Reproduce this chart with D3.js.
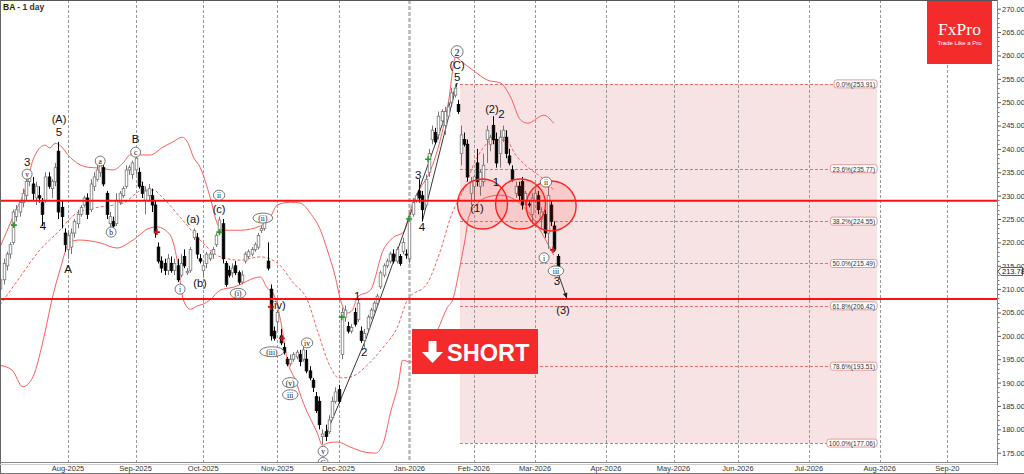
<!DOCTYPE html>
<html><head><meta charset="utf-8">
<script src="https://cdn.jsdelivr.net/npm/d3@7"></script>
<style>body{margin:0;background:#fff;overflow:hidden}svg{display:block;font-family:"Liberation Sans",Arial,sans-serif}</style>
</head><body><svg id="c" width="1024" height="474"></svg>
<script>
// ---------- DATA ----------
const title = "BA";
const subtitle = " - 1 day";
const opens = [209,210,212,215,217.5,220,225.5,226.5,228.5,230,233,232.5,229.5,230,228.5,229,234,231.5,233,239.5,227.5,222,218.5,
219,222,224,226,228,229.5,227,232,233.5,235,236,230.5,224,224.5,224,228.5,230,232,235.5,234.5,235.5,
235,232,229,230,230,228,219,216,215.5,214,215.5,214,215,213,217,213.5,214,221,221,216.5,214,
215.5,216.5,217.5,219.5,222,224,215.5,214,213.5,215,213.5,211.5,216,217,217.5,218.5,219,222.5,223,216,210,201,203,
200,197.5,195,194,195,195.5,196,195,195,192.5,190.5,187,186,178.5,179.5,179.5,182.5,186,188.5,
196,204,202,201,205,203.5,201,199,201.5,204,205.5,207,210.5,213,215,216,217.5,216,217,218,217.5,
216.5,226,229,231,230,228,235,242,243.5,243,246,245,247,250,251.5,249.5,239,242,241,230.5,232,237,
232,233,242,241,245,242,239,242.5,242.5,238.5,235.5,230.5,232,233,229,228.2,226,229,230,225,226,222,228,223.5,217];
const highs = [212,212.5,216.5,218,220,227,228,229,231.5,234,235.5,234,233,232,229.5,235,235,233.5,237,241.5,229,223,222.5,
223,225,227,228,230,230.5,233.5,235,236.5,237,236.5,231,226.5,225.5,230.5,231,232,236.5,236.5,237.5,238.5,
236,233,232,232.5,231.5,229,220,217,216.5,217.5,217,216.5,216.5,217.5,218.5,214.5,219,223,222,217.5,216,
218,218,219,222,225.5,225,216,215,215.5,216,214,214,218,218.5,219,220,222,223.5,225,220,211,202,205.5,
201.5,198.5,195.5,196,196.5,197,197,198,197,193.5,191,188,187,180,181,183,187,189,189.5,
206,206.5,203,202.5,206,208,202,201.5,204.5,206,207.5,209,214,215.5,216.5,218,218.5,219,217.5,221,218.5,
226,229.5,230.5,233.5,231,234.5,240,245,244.5,248,248.5,249,250,253,253.91,250.5,245,243.5,242,234,234.5,240,
235.5,239,245,243,247,243.5,244,245,244,240,236.5,233,233,234,231,229,230.5,231.5,231,227.5,227,232,229,224.5,217.5];
const lows = [207,208.5,211,214,216.5,219.5,224.5,225.5,227.5,229,232,229,228,228.5,223.5,228.5,231.5,229.5,232,225,223,218,216.5,
217.5,221,223,225.5,227.5,225,226.5,231,233,234,232,225,222.5,222.5,223.5,228,229.5,231.5,234.5,233.5,234.5,
231.5,229.5,226,229,226.5,221,215.5,213.5,213,213,213.5,213,211.5,212.5,214.5,213,213.5,220.5,216.5,215.5,212.5,
214.5,216,216.5,219,221.5,215.5,210.5,212.5,212.5,213,211,211,215.5,216.5,217,218,218.5,222,222.5,214,199,199,201,
198,196,193.5,193.5,194.5,195,193.5,194.5,192,190.5,188,183.5,180,176.8,177.5,179,182,185.5,185.5,
195,203,200.5,200.5,202,203,198.5,197.5,201,203.5,205,206.5,210,212.5,214.5,215.5,215.5,215.5,215,217.5,216.5,
215.5,225.5,228.5,228.5,224.5,227.5,234,241,241,242,245,243,246.5,249.5,251,247.5,236.5,240.5,233,228,229,232,
230,232,237,239.5,241,236,236,241.5,238,236.5,233,229.5,229,227,228,227.5,224,228.5,226,223,221,218.6,223.5,218,213.5];
const closes = [211,212,215.5,217.5,219.5,226.5,227,228.5,230.5,233,234.5,230.5,232,229.5,226,234,232,233,236,226.5,225.5,219.5,221.5,
222,224.5,226,227.5,229.5,226,232.5,234,235.5,236.5,232.5,226,225.5,223.5,229,230.5,231.5,235.5,236,237,238,
232,230.5,231,231.5,228,222,216,214.5,214,216.5,214,215.5,212,215.5,215,213.8,218.5,222.5,217.5,216,215,
217.5,217.5,218.5,221.5,224.8,216.5,211,213,214.5,213.5,211.5,213,217.5,218,218.5,219.5,221.5,223,224.5,214.5,200,199.5,205,
198.5,196.5,194,195,196,196.5,194.5,197,192.5,191,189,184,181,179,178.5,182,186,188,186,
205,205.5,201,201.8,202.5,207,199,200.5,204,205.5,207,208.5,213.5,215,216,217.5,216,218.5,215.5,220,217.3,
225.5,228.5,230,229.5,227,233.5,239,244,241.5,247,248,248,249,252,253,248,243,241,234,233,234,233,
235,236.5,244,242.5,242,237,242.5,244,239,237,233.5,232,230,228,230.5,228,229.5,230.5,227,226.5,222,230,224.5,218.5,213.78];

// Bollinger bands (bar index, price)
const upperIdx = [0.9,4.9,9.3,11.1,14.8,16.4,18.0,20.1,22.0,23.6,27.9,31.9,36.0,39.1,41.3,44.4,47.5,51.5,54.6,57.4,59.3,60.9,63.0,66.1,68.3,69.9,75.5,81.7,84.8,87.0,91.0,94.1,97.2,100.4,102.5,105.0,106.6,108.8,110.3,111.9,115.9,119.9,123.1,126.2,128.3,130.5,134.6,136.7,140.2,142.3,144.5,147.6,152.3,156.3,159.4,162.5,164.7,169.7,172.8];
const upperVal = [219.0,225.4,232.7,237.6,240.8,240.2,241.2,240.4,238.7,237.6,236.1,235.9,235.5,237.0,238.7,238.7,238.7,240.4,241.5,242.5,241.2,238.3,236.1,229.7,224.1,222.6,222.6,223.5,225.4,228.0,228.6,228.4,226.3,222.6,218.4,212.6,207.7,204.9,205.5,208.3,209.8,218.4,221.1,222.2,226.9,230.5,235.5,239.7,250.4,259.6,258.5,256.9,254.7,254.1,251.1,246.2,245.5,247.2,245.5];
const midIdx = [0.9,7.1,13.3,18.6,24.8,32.0,39.1,45.3,48.4,51.5,56.8,63.0,69.3,75.5,81.7,87.0,92.0,96.3,99.4,103.5,106.0,109.7,115.0,119.9,124.3,127.4,133.6,137.7,140.8,144.8,148.6,154.1,157.9,161.0,164.7,168.8,172.8];
const midVal = [206.6,212.6,218.4,222.0,226.3,227.6,228.4,231.2,231.2,229.5,225.4,220.5,216.9,216.2,216.9,215.6,211.3,207.7,201.2,193.3,191.0,191.2,193.8,197.6,201.9,207.7,211.3,218.4,225.4,231.2,237.6,241.9,241.9,238.7,236.1,234.0,231.2];
const lowerIdx = [0.9,4.6,8.0,11.1,14.8,17.0,19.5,22.6,25.7,32.0,37.2,42.2,47.5,49.7,53.7,55.9,57.8,60.0,62.1,64.0,66.1,69.3,73.3,81.7,83.9,85.7,88.0,90.1,92.6,95.1,99.4,101.0,102.8,105.6,109.7,113.7,117.5,120.0,122.1,124.6,125.9,128.3,133.6,136.7,139.8,141.4,143.9,145.4,146.4,149.2,152.3,156.3,161.0,165.7,170.3,172.8];
const lowerVal = [193.7,192.7,189.1,191.2,200.6,207.7,214.1,220.1,220.5,219.9,218.8,220.5,223.1,223.3,221.6,216.2,207.7,205.7,206.4,206.8,207.7,209.8,210.4,212.6,210.2,209.1,203.3,194.8,190.5,185.6,179.2,176.6,177.1,177.3,176.2,175.2,174.9,177.3,183.5,189.9,194.8,194.4,197.6,201.2,206.1,207.7,215.6,221.1,225.4,228.4,229.7,230.1,229.0,225.8,220.5,217.3];

// month ticks (bar index of first day) and labels
const monthIdx = [22,43,64,87,106,128,148,167,189,210,230,252,274,295];
const monthLabels = ["Aug-2025","Sep-2025","Oct-2025","Nov-2025","Dec-2025","Jan-2026","Feb-2026","Mar-2026","Apr-2026","May-2026","Jun-2026","Jul-2026","Aug-2026","Sep-20"];
const yearStartIdx = [128];
const priceTicks = d3.range(175, 271, 5);

// support / resistance
const levelLines = [228.9, 207.9];
// Fibonacci retracement
const fibPct = ["0.0%","23.6%","38.2%","50.0%","61.8%","78.6%","100.0%"];
const fibVal = [253.91,235.77,224.55,215.49,206.42,193.51,177.06];
const fibStartIdx = 143.7, fibEndIdx = 273.2;
const lastPrice = 213.78;

// highlighted circles (bar index, price)
const circIdx = [150.7, 162.5, 172.0];
const circVal = [228.2, 228.2, 227.8];

// wave labels
const labText = ["3","v","4","(A)","5","A","a","b","B","c","i","(a)","(b)","(c)","ii","(i)","(ii)","(iv)","(iii)","iv","(v)","iii","v","C","1","2","3","4","5","(C)","2","(2)","2","1","(1)","ii","i","iii","3","(3)"];
const labIdx  = [9.3,9.3,14.2,19.2,19.2,22,32,35.4,43,43,56.8,60.8,63,68.9,68.9,74.8,82.5,87.2,85.3,96.2,91,91,101.2,101.2,111.8,114,130.7,131.9,142.8,142.8,142.8,153.6,156.6,154.9,149,170.4,169.8,173.5,173.8,175.7];
const labVal  = [237.3,234.6,223.5,246.4,243.6,214.4,237.4,222.2,242.1,239.3,210,225,211.3,227.2,230.1,209.1,225.2,206.6,196.6,198.5,190,187.4,175.3,172.9,208.5,196.6,234.4,223.3,255.4,258,260.8,248.6,247.5,232.9,227.3,232.9,216.7,213.9,211.7,205.5];
const labKind = ["t","c","t","t","t","t","c","c","t","c","c","t","t","t","c","c","c","t","c","c","c","c","c","c","t","t","t","t","t","t","C","t","t","t","t","c","c","c","t","t"];

// wave lines [idx0,val0,idx1,val1]
const waveLines = [[101.8,178.4,114.2,198.8],[114.2,198.8,142.8,254.1],[132,224.5,142.8,254.1]];
const arrowLine = [173.8,214.1,176.9,208.0];

// signal markers
const buyIdx = [5.2,69,107,127.9,133.8];
const buyVal = [223.7,222.2,204,225,237.8];
const sellIdx = [49.6,85,88.4,172.6];
const sellVal = [222.2,206.2,199.5,218.4];

// ---------- DRAW ----------
const svg = d3.select('#c');
const plotR = 997, plotB = 462.5;
const x = d3.scaleLinear().domain([0, 310]).range([-2.86, -2.86 + 310 * 3.2209]);
const y = d3.scaleLinear().domain([175, 270]).range([452.7, 8.7]);

svg.append('rect').attr('width',1024).attr('height',474).attr('fill','#fff');
svg.append('defs').append('clipPath').attr('id','clip').append('rect')
  .attr('x',0).attr('y',0).attr('width',plotR).attr('height',plotB);
const g = svg.append('g').attr('clip-path','url(#clip)');

// fib rectangle
const fx0 = x(fibStartIdx), fx1 = x(fibEndIdx);
g.append('rect').attr('x',fx0).attr('y',y(d3.max(fibVal))).attr('width',fx1-fx0)
  .attr('height',y(d3.min(fibVal))-y(d3.max(fibVal))).attr('fill','#f7e3e3');

// vertical grid
monthIdx.forEach(i=>{
  const xx = Math.round(x(i))+0.5;
  const yr = yearStartIdx.includes(i);
  g.append('line').attr('x1',xx).attr('x2',xx).attr('y1',0).attr('y2',plotB)
    .attr('stroke',yr?'#b8b8b8':'#9a9a9a').attr('stroke-width',yr?2.5:1)
    .attr('stroke-dasharray',yr?'4,2':'3,2');
});

// fib lines
fibVal.forEach(v=>{
  const yy = Math.round(y(v))+0.5;
  g.append('line').attr('x1',fx0).attr('x2',fx1).attr('y1',yy).attr('y2',yy)
    .attr('stroke','#e07070').attr('stroke-width',1).attr('stroke-dasharray','3,2');
});

// bands
const band = (idx, val, dash) => {
  const line = d3.line().x(d=>x(d[0])).y(d=>y(d[1])).curve(d3.curveMonotoneX);
  g.append('path').attr('d', line(idx.map((d,k)=>[d,val[k]]))).attr('fill','none')
    .attr('stroke','#ff5a5a').attr('stroke-width',1).attr('stroke-dasharray',dash||null);
};
band(upperIdx, upperVal);
band(midIdx, midVal, '3,2');
band(lowerIdx, lowerVal);

// wave lines
waveLines.forEach(w=>{
  g.append('line').attr('x1',x(w[0])).attr('y1',y(w[1])).attr('x2',x(w[2])).attr('y2',y(w[3]))
    .attr('stroke','#222').attr('stroke-width',0.9);
});

// candles
const bw = 2.6;
closes.forEach((c,i)=>{
  const o = opens[i], h = highs[i], l = lows[i];
  const cx = Math.round(x(i));
  const up = c >= o;
  g.append('line').attr('x1',cx+0.5).attr('x2',cx+0.5).attr('y1',y(h)).attr('y2',y(l))
    .attr('stroke', up ? '#777' : '#000').attr('stroke-width',1);
  const top = y(Math.max(o,c)), bot = y(Math.min(o,c));
  g.append('rect').attr('x',cx+0.5-bw/2).attr('y',top).attr('width',bw).attr('height',Math.max(1,bot-top))
    .attr('fill', up ? '#fff' : '#000').attr('stroke', up ? '#777' : '#000').attr('stroke-width',0.8);
});

// horizontal levels
levelLines.forEach(v=>{
  g.append('line').attr('x1',0).attr('x2',plotR).attr('y1',y(v)).attr('y2',y(v))
    .attr('stroke','#ff1010').attr('stroke-width',2);
});

// circles
circIdx.forEach((ci,k)=>{
  g.append('circle').attr('cx',x(ci)).attr('cy',y(circVal[k])).attr('r',25)
    .attr('fill','rgba(255,40,40,0.13)').attr('stroke','#ff2020').attr('stroke-width',1.4);
});

// markers
buyIdx.forEach((bi,k)=>{
  const cx=x(bi), cy=y(buyVal[k]);
  g.append('path').attr('d',`M${cx-3},${cy}H${cx+3}M${cx},${cy-3}V${cy+3}`).attr('stroke','#22a022').attr('stroke-width',1.6);
});
sellIdx.forEach((si,k)=>{
  const cx=x(si), cy=y(sellVal[k]);
  g.append('path').attr('d',`M${cx-3},${cy}H${cx+3}M${cx},${cy-3}V${cy+3}`).attr('stroke','#c81818').attr('stroke-width',1.6);
});

// arrow
{
  const [i0,v0,i1,v1] = arrowLine;
  const X0=x(i0),Y0=y(v0),X1=x(i1),Y1=y(v1);
  g.append('line').attr('x1',X0).attr('y1',Y0).attr('x2',X1).attr('y2',Y1).attr('stroke','#222').attr('stroke-width',0.9);
  const ang = Math.atan2(Y1-Y0,X1-X0), L=6, a=0.4;
  g.append('path').attr('d',`M${X1},${Y1}L${X1-L*Math.cos(ang-a)},${Y1-L*Math.sin(ang-a)}L${X1-L*Math.cos(ang+a)},${Y1-L*Math.sin(ang+a)}Z`).attr('fill','#222');
}

// wave labels
labText.forEach((t,k)=>{
  const cx = x(labIdx[k]), cy = y(labVal[k]), kind = labKind[k];
  if (kind==='t') {
    g.append('text').attr('x',cx).attr('y',cy).attr('text-anchor','middle').attr('dominant-baseline','central')
      .attr('font-size', t.length>1 ? 11 : 11.5).attr('fill','#111').text(t);
  } else {
    const big = kind==='C';
    const rx = big ? 6 : Math.max(5, t.length*2.1+1.5), ry = big ? 6 : 5;
    g.append('ellipse').attr('cx',cx).attr('cy',cy).attr('rx',rx).attr('ry',ry)
      .attr('fill','#fff').attr('stroke','#555').attr('stroke-width',0.8);
    g.append('text').attr('x',cx).attr('y',cy+0.5).attr('text-anchor','middle').attr('dominant-baseline','central')
      .attr('font-family','"Liberation Serif","DejaVu Serif",serif').attr('font-size', big?10:7.5).attr('fill','#111').text(t);
  }
});

// fib labels
fibVal.forEach((v,k)=>{
  const t = fibPct[k] + '(' + v.toFixed(2) + ')';
  const tx = g.append('text').attr('font-size',6.5).attr('fill','#333').attr('text-anchor','end')
    .attr('x', fx1-2).attr('y', y(v)+0.5).attr('dominant-baseline','central').text(t);
  const w = tx.node().getComputedTextLength();
  g.insert('rect', () => tx.node()).attr('x', fx1-w-4).attr('y', y(v)-4).attr('width', w+4).attr('height', 8)
    .attr('rx',2.5).attr('fill','#fff').attr('stroke','#e79a9a').attr('stroke-width',1);
});

// title
svg.append('rect').attr('x',1).attr('y',1).attr('width',15).attr('height',11).attr('fill','#ffffd0');
svg.append('text').attr('x',3).attr('y',9.5).attr('font-size',8.5).attr('font-weight','bold').attr('fill','#222')
  .text(title).append('tspan').attr('font-weight','bold').attr('fill','#333').text(subtitle);

// logo
svg.append('rect').attr('x',927).attr('y',0).attr('width',65).attr('height',64).attr('fill','#f42b2b');
svg.append('text').attr('x',959.5).attr('y',35).attr('text-anchor','middle').attr('fill','#fff')
  .attr('font-family','"Liberation Serif","DejaVu Serif",serif').attr('font-size',17.5).text('FxPro');
svg.append('text').attr('x',959.5).attr('y',44.5).attr('text-anchor','middle').attr('fill','#fff')
  .attr('font-size',6).text('Trade Like a Pro');

// SHORT button
svg.append('rect').attr('x',412).attr('y',329).attr('width',126).attr('height',45).attr('fill','#f52a2a');
svg.append('path').attr('d','M428.5,341H436.5V352H443L432.5,363L422,352H428.5Z').attr('fill','#fff');
svg.append('text').attr('x',447).attr('y',361).attr('font-size',23.5).attr('font-weight','bold').attr('fill','#fff').text('SHORT');

// frames
svg.append('line').attr('x1',0).attr('x2',plotR).attr('y1',0.5).attr('y2',0.5).attr('stroke','#555');
svg.append('line').attr('x1',0.5).attr('x2',0.5).attr('y1',0).attr('y2',474).attr('stroke','#666');
svg.append('line').attr('x1',0).attr('x2',plotR+1).attr('y1',462.5).attr('y2',462.5).attr('stroke','#888');
svg.append('line').attr('x1',0).attr('x2',plotR+1).attr('y1',464.5).attr('y2',464.5).attr('stroke','#ccc');
svg.append('line').attr('x1',0).attr('x2',1024).attr('y1',473.5).attr('y2',473.5).attr('stroke','#777');
svg.append('line').attr('x1',plotR+0.5).attr('x2',plotR+0.5).attr('y1',0).attr('y2',465).attr('stroke','#888');

// right axis
const axisG = svg.append('g').attr('transform',`translate(${plotR+1},0)`);
axisG.call(d3.axisRight(y).tickValues(priceTicks).tickSize(3).tickFormat(d=>d.toFixed(2)))
  .call(a=>a.select('.domain').remove())
  .call(a=>a.selectAll('text').attr('font-size',7.5).attr('fill','#333').attr('x',4).attr('font-family','"Liberation Sans",Arial,sans-serif'))
  .call(a=>a.selectAll('line').attr('stroke','#555'));
d3.range(175, 271, 1).filter(v=>v%5!==0).forEach(v=>{
  svg.append('line').attr('x1',plotR+1).attr('x2',plotR+2.5).attr('y1',Math.round(y(v))+0.5).attr('y2',Math.round(y(v))+0.5).attr('stroke','#777');
});
// last price tag
{
  const yy = y(lastPrice);
  svg.append('path').attr('d',`M${plotR+1},${yy}L${plotR+4},${yy-4}H1022.5V${yy+4}H${plotR+4}Z`).attr('fill','#fff').attr('stroke','#333').attr('stroke-width',0.8);
  svg.append('text').attr('x',plotR+5).attr('y',yy).attr('dominant-baseline','central').attr('font-size',7.5).attr('fill','#111').text(lastPrice.toFixed(2));
}

// bottom axis labels
monthIdx.forEach((i,k)=>{
  svg.append('text').attr('x',x(i)).attr('y',471).attr('text-anchor','middle').attr('font-size',7.5).attr('fill','#333').text(monthLabels[k]);
});
</script></body></html>
